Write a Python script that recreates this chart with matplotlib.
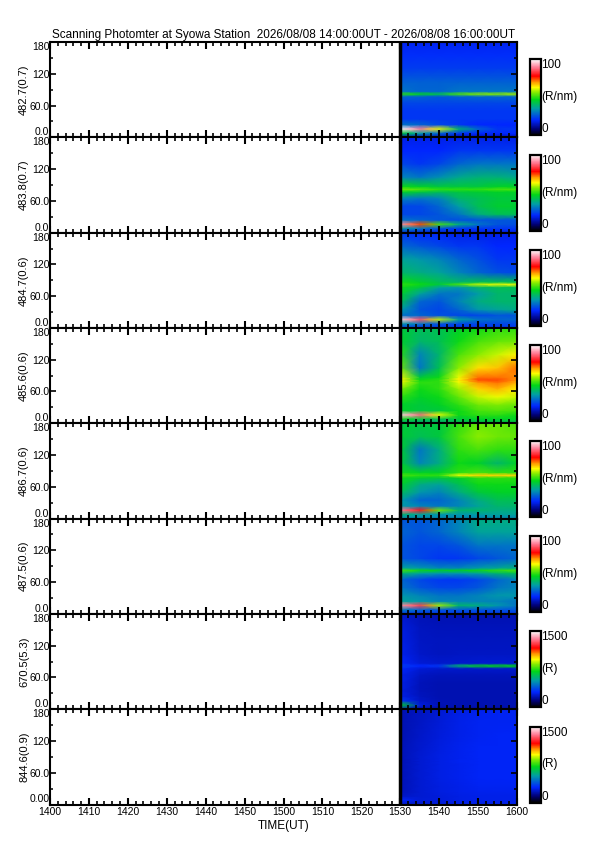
#!/usr/bin/env python3
# Scanning photometer keogram-like plot (8 channels stacked)
import numpy as np
import matplotlib.pyplot as plt
from matplotlib.colors import LinearSegmentedColormap
from matplotlib.ticker import MultipleLocator, FixedLocator, FuncFormatter

plt.rcParams['font.family'] = ['Liberation Sans', 'DejaVu Sans']

# ---- data ----
title = "Scanning Photomter at Syowa Station  2026/08/08 14:00:00UT - 2026/08/08 16:00:00UT"
channels = ["482.7(0.7)", "483.8(0.7)", "484.7(0.6)", "485.6(0.6)",
            "486.7(0.6)", "487.5(0.6)", "670.5(5.3)", "844.6(0.9)"]
units = ["(R/nm)"] * 6 + ["(R)", "(R)"]
vmaxs = [100] * 6 + [1500, 1500]

# time nodes in minutes after 14:00 UT (data only from 15:30)
times = [90, 95, 100, 105, 110, 115, 120]
# scan angle nodes (deg)
angles = [0, 8, 16, 24, 35, 50, 65, 77, 82, 87, 105, 130, 155, 180]

ch1 = [[15, 15, 15, 15, 15, 15, 15],
       [45, 35, 28, 22, 20, 20, 20],
       [100, 90, 62, 40, 28, 22, 22],
       [30, 28, 24, 22, 20, 20, 20],
       [22, 22, 22, 22, 22, 22, 22],
       [22, 22, 22, 22, 22, 22, 22],
       [24, 24, 24, 24, 24, 24, 24],
       [28, 27, 26, 27, 28, 28, 28],
       [50, 46, 42, 52, 56, 56, 58],
       [30, 28, 28, 30, 30, 30, 30],
       [27, 27, 27, 27, 27, 27, 27],
       [23, 23, 23, 23, 23, 23, 23],
       [21, 21, 21, 21, 21, 21, 21],
       [19, 19, 19, 19, 19, 19, 19]]

ch2 = [[18, 18, 18, 18, 18, 18, 18],
       [35, 30, 25, 22, 22, 22, 22],
       [92, 74, 52, 38, 30, 26, 25],
       [30, 28, 26, 25, 26, 26, 26],
       [24, 24, 26, 30, 38, 42, 42],
       [24, 24, 28, 35, 42, 45, 45],
       [32, 30, 32, 40, 42, 44, 44],
       [46, 44, 42, 44, 45, 46, 46],
       [55, 53, 50, 50, 50, 52, 52],
       [48, 46, 44, 44, 44, 46, 46],
       [32, 30, 33, 37, 39, 39, 37],
       [24, 22, 24, 28, 30, 30, 30],
       [20, 20, 20, 22, 22, 22, 22],
       [18, 18, 18, 18, 18, 18, 18]]

ch3 = [[22, 22, 22, 22, 22, 22, 22],
       [35, 30, 26, 24, 24, 24, 24],
       [97, 86, 60, 36, 30, 28, 28],
       [30, 28, 25, 24, 24, 26, 26],
       [35, 26, 24, 28, 34, 36, 38],
       [42, 28, 26, 32, 38, 40, 40],
       [46, 36, 30, 30, 35, 40, 40],
       [48, 44, 36, 34, 40, 42, 42],
       [50, 48, 44, 52, 60, 62, 62],
       [48, 45, 42, 40, 42, 42, 42],
       [40, 38, 36, 32, 28, 25, 24],
       [36, 34, 32, 28, 25, 22, 22],
       [28, 26, 24, 22, 22, 20, 20],
       [22, 20, 20, 18, 18, 18, 18]]

ch4 = [[38, 38, 40, 42, 42, 42, 42],
       [48, 44, 42, 44, 46, 46, 46],
       [97, 88, 62, 48, 50, 50, 48],
       [46, 44, 44, 48, 52, 53, 52],
       [46, 44, 46, 50, 55, 56, 54],
       [50, 46, 48, 54, 60, 62, 60],
       [56, 48, 50, 58, 66, 68, 64],
       [62, 50, 50, 62, 70, 72, 68],
       [64, 48, 50, 64, 74, 74, 70],
       [62, 44, 48, 62, 72, 72, 71],
       [55, 30, 42, 57, 65, 67, 72],
       [50, 32, 40, 52, 57, 60, 64],
       [46, 40, 42, 48, 52, 54, 55],
       [44, 42, 42, 46, 48, 50, 50]]

ch5 = [[32, 32, 32, 32, 32, 32, 32],
       [40, 36, 34, 34, 35, 36, 36],
       [90, 80, 55, 40, 40, 38, 38],
       [35, 32, 30, 32, 36, 40, 40],
       [35, 28, 28, 32, 38, 42, 42],
       [42, 34, 32, 38, 44, 46, 46],
       [46, 38, 36, 42, 48, 48, 48],
       [48, 45, 44, 46, 50, 50, 50],
       [52, 50, 50, 62, 66, 66, 66],
       [48, 46, 46, 50, 52, 50, 50],
       [45, 32, 38, 48, 46, 40, 46],
       [45, 30, 38, 50, 52, 50, 50],
       [45, 42, 44, 52, 57, 55, 54],
       [44, 44, 44, 50, 54, 54, 52]]

ch6 = [[22, 22, 22, 22, 22, 22, 22],
       [32, 28, 26, 26, 26, 26, 26],
       [92, 84, 58, 40, 38, 34, 30],
       [36, 34, 32, 32, 32, 32, 30],
       [34, 32, 30, 30, 32, 34, 34],
       [30, 26, 24, 24, 26, 30, 32],
       [28, 24, 22, 22, 24, 28, 32],
       [40, 36, 34, 34, 36, 40, 42],
       [52, 48, 46, 46, 48, 50, 52],
       [36, 34, 32, 32, 34, 36, 38],
       [26, 24, 22, 22, 24, 26, 28],
       [26, 24, 24, 26, 30, 30, 30],
       [28, 26, 28, 32, 36, 36, 36],
       [26, 26, 28, 32, 38, 38, 38]]

ch7 = [[260, 200, 190, 190, 190, 190, 190],
       [700, 260, 210, 200, 200, 200, 200],
       [330, 230, 210, 200, 200, 200, 200],
       [270, 220, 205, 200, 200, 200, 200],
       [260, 215, 200, 200, 200, 200, 200],
       [270, 215, 205, 205, 205, 205, 205],
       [280, 225, 215, 215, 215, 215, 215],
       [300, 250, 235, 240, 240, 240, 240],
       [340, 300, 330, 600, 680, 700, 700],
       [300, 250, 235, 240, 245, 245, 245],
       [280, 230, 220, 225, 225, 225, 225],
       [270, 225, 220, 220, 220, 220, 220],
       [260, 220, 215, 215, 215, 215, 215],
       [240, 210, 205, 205, 205, 205, 205]]

ch8 = [[220, 240, 255, 265, 270, 270, 270],
       [300, 250, 255, 265, 270, 270, 270],
       [230, 245, 255, 265, 270, 275, 275],
       [215, 245, 260, 270, 280, 280, 280],
       [210, 245, 260, 275, 285, 285, 285],
       [210, 245, 265, 280, 290, 290, 290],
       [210, 245, 265, 280, 290, 290, 290],
       [210, 245, 265, 280, 290, 290, 290],
       [210, 245, 265, 282, 292, 292, 292],
       [210, 245, 265, 280, 290, 290, 290],
       [210, 240, 260, 278, 288, 290, 290],
       [205, 230, 255, 275, 285, 288, 288],
       [200, 225, 250, 270, 282, 285, 285],
       [200, 220, 245, 268, 280, 282, 282]]

data = [ch1, ch2, ch3, ch4, ch5, ch6, ch7, ch8]

# colour table: black - blue - green - yellow - red - white
cmap = LinearSegmentedColormap.from_list("photo", [
    (0.00, (0.0, 0.0, 0.0)),
    (0.08, (0.0, 0.0, 0.45)),
    (0.20, (0.0, 0.15, 1.0)),
    (0.35, (0.0, 0.62, 0.65)),
    (0.47, (0.0, 0.84, 0.1)),
    (0.57, (0.55, 0.93, 0.0)),
    (0.63, (1.0, 1.0, 0.0)),
    (0.70, (1.0, 0.6, 0.0)),
    (0.78, (1.0, 0.0, 0.0)),
    (0.90, (1.0, 0.5, 0.6)),
    (1.00, (1.0, 1.0, 1.0))])

fig = plt.figure(figsize=(5.95, 8.42), dpi=100)
W, H = 595.0, 842.0
x0, x1 = 50 / W, 517 / W
ytop, ybot = 42.0, 804.5
ph = (ybot - ytop) / len(channels)

TT, AA = np.meshgrid(times, angles)

def hhmm(m, pos):
    m = int(round(m))
    return "%d%02d" % (14 + m // 60, m % 60)

for i, name in enumerate(channels):
    top_px = ytop + i * ph
    bottom = 1 - (top_px + ph) / H
    ax = fig.add_axes([x0, bottom, x1 - x0, ph / H])
    C = np.array(data[i], dtype=float)
    mesh = ax.pcolormesh(TT, AA, C, cmap=cmap, vmin=0, vmax=vmaxs[i],
                         shading='gouraud', rasterized=True)
    ax.axvline(times[0], color='k', lw=2.5)
    ax.set_xlim(0, 120)
    ax.set_ylim(0, 180)

    ax.xaxis.set_major_locator(MultipleLocator(10))
    ax.xaxis.set_minor_locator(MultipleLocator(2))
    ax.yaxis.set_major_locator(FixedLocator([0, 60, 120, 180]))
    ax.yaxis.set_minor_locator(FixedLocator([30, 90, 150]))
    ax.tick_params(which='both', direction='in', top=True, right=True)
    ax.tick_params(axis='x', which='major', length=5, width=1.5, pad=2, labelsize=7.5)
    ax.tick_params(axis='x', which='minor', length=3, width=1.2)
    ax.tick_params(axis='y', which='major', length=4, width=1.2, pad=0.5, labelsize=7.5)
    ax.tick_params(axis='y', which='minor', length=2.5, width=1.1)
    for s in ax.spines.values():
        s.set_linewidth(1.5)

    if i == len(channels) - 1:
        ax.set_yticklabels(['0.00', '60.0', '120', '180'])
        ax.xaxis.set_major_formatter(FuncFormatter(hhmm))
        ax.set_xlabel("TIME(UT)", fontsize=8.5, labelpad=2)
    else:
        ax.set_yticklabels(['0.0', '60.0', '120', '180'])
        ax.set_xticklabels([])
    labs = ax.get_yticklabels()
    labs[0].set_va('bottom')
    labs[-1].set_va('top')
    ax.set_ylabel(name, fontsize=8, labelpad=0)
    if i == 0:
        ax.set_title(title, fontsize=8.5, pad=3)

    # colour bar for this channel
    cax = fig.add_axes([530 / W, bottom + 2 / H, 11 / W, 76 / H])
    cb = fig.colorbar(mesh, cax=cax)
    cb.set_ticks([])
    cb.outline.set_linewidth(1.6)
    cb.solids.set_rasterized(True)
    cax.text(1.02, 1.0, str(vmaxs[i]), transform=cax.transAxes,
             ha='left', va='top', fontsize=8.5)
    cax.text(1.02, 0.0, "0", transform=cax.transAxes,
             ha='left', va='bottom', fontsize=8.5)
    cax.text(1.02, 0.5, units[i], transform=cax.transAxes,
             ha='left', va='center', fontsize=8.5)

fig.savefig("out.png", dpi=100)
